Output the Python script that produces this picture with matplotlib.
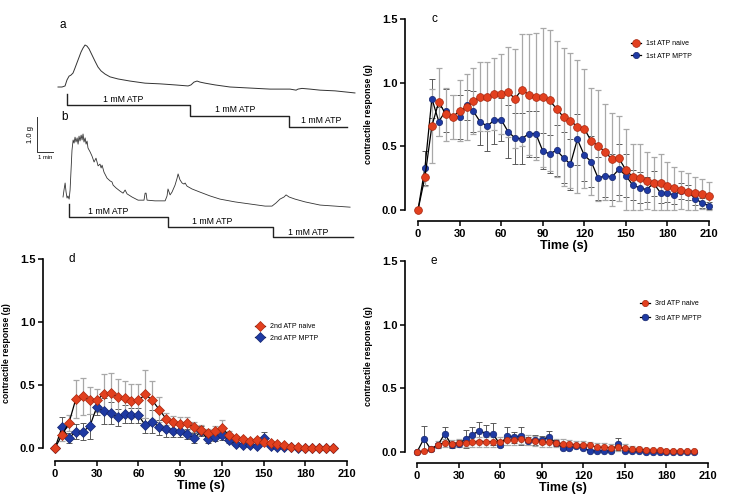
import numpy as np
import matplotlib
matplotlib.use("Agg")
import matplotlib.pyplot as plt

plt.rcParams['font.family'] = ['Liberation Sans', 'DejaVu Sans']

# ---------------- data ----------------
# panel c (1st ATP), 0..210 s every 5 s
t_c = np.arange(0, 215, 5)
naive_c = [0, 0.26, 0.66, 0.85, 0.75, 0.73, 0.78, 0.81, 0.855, 0.89, 0.89, 0.91, 0.91, 0.925,
           0.875, 0.945, 0.905, 0.89, 0.885, 0.86, 0.795, 0.73, 0.70, 0.655, 0.64, 0.54, 0.505,
           0.455, 0.40, 0.405, 0.315, 0.26, 0.255, 0.23, 0.21, 0.215, 0.19, 0.17, 0.155, 0.145,
           0.13, 0.125, 0.11]
naive_c_sem = [0, 0.07, 0.29, 0.265, 0.21, 0.175, 0.24, 0.26, 0.26, 0.27, 0.27, 0.28, 0.315, 0.355,
               0.39, 0.44, 0.475, 0.5, 0.545, 0.55, 0.535, 0.54, 0.53, 0.525, 0.465, 0.42, 0.435,
               0.375, 0.365, 0.335, 0.325, 0.26, 0.26, 0.225, 0.207, 0.225, 0.19, 0.17, 0.15, 0.145,
               0.13, 0.115, 0.11]
mptp_c = [0, 0.33, 0.875, 0.695, 0.78, 0.73, 0.73, 0.825, 0.775, 0.69, 0.66, 0.705, 0.71, 0.615,
          0.565, 0.56, 0.60, 0.60, 0.465, 0.44, 0.47, 0.41, 0.36, 0.555, 0.43, 0.38, 0.25, 0.27,
          0.26, 0.32, 0.27, 0.195, 0.175, 0.16, 0.21, 0.135, 0.13, 0.12, 0.15, 0.14, 0.09, 0.055,
          0.035]
mptp_c_sem = [0, 0.13, 0.155, 0.11, 0.17, 0.17, 0.17, 0.12, 0.16, 0.18, 0.2, 0.19, 0.17, 0.21,
              0.2, 0.2, 0.18, 0.18, 0.14, 0.15, 0.2, 0.2, 0.2, 0.2, 0.2, 0.2, 0.17, 0.17, 0.18,
              0.2, 0.17, 0.12, 0.12, 0.1, 0.1, 0.08, 0.07, 0.07, 0.06, 0.06, 0.05, 0.04, 0.03]

# panel d (2nd ATP), 0..200 s
t_d = np.arange(0, 205, 5)
naive_d = [0, 0.103, 0.198, 0.39, 0.41, 0.378, 0.378, 0.43, 0.437, 0.405, 0.397, 0.376, 0.378,
           0.426, 0.378, 0.304, 0.23, 0.206, 0.193, 0.196, 0.164, 0.143, 0.119, 0.132, 0.156,
           0.103, 0.077, 0.071, 0.053, 0.061, 0.048, 0.04, 0.032, 0.021, 0.011, 0.005, 0, 0, 0, 0, 0]
naive_d_sem = [0, 0.05, 0.06, 0.15, 0.145, 0.105, 0.09, 0.155, 0.16, 0.14, 0.133, 0.134, 0.13,
               0.19, 0.15, 0.1, 0.05, 0.045, 0.055, 0.05, 0.04, 0.04, 0.03, 0.04, 0.065, 0.03,
               0.02, 0.02, 0.015, 0.02, 0.015, 0.01, 0.01, 0.008, 0.005, 0.003, 0, 0, 0, 0, 0]
mptp_d = [0, 0.164, 0.079, 0.13, 0.13, 0.172, 0.323, 0.294, 0.278, 0.243, 0.27, 0.259, 0.259,
          0.18, 0.209, 0.164, 0.151, 0.138, 0.138, 0.111, 0.077, 0.132, 0.069, 0.085, 0.103,
          0.061, 0.032, 0.026, 0.021, 0.019, 0.079, 0.016, 0.011, 0.008, 0.005, 0.003, 0, 0, 0, 0, 0]
mptp_d_sem = [0, 0.085, 0.04, 0.06, 0.07, 0.1, 0.06, 0.1, 0.09, 0.07, 0.07, 0.06, 0.06, 0.06,
              0.09, 0.06, 0.06, 0.05, 0.05, 0.04, 0.04, 0.04, 0.03, 0.03, 0.04, 0.02, 0.015,
              0.01, 0.01, 0.01, 0.05, 0.01, 0.005, 0.005, 0, 0, 0, 0, 0, 0, 0]

# panel e (3rd ATP), 0..200 s
t_e = np.arange(0, 205, 5)
naive_e = [0, 0.005, 0.02, 0.058, 0.073, 0.066, 0.071, 0.073, 0.079, 0.081, 0.081, 0.081, 0.079,
           0.092, 0.097, 0.1, 0.092, 0.089, 0.081, 0.076, 0.071, 0.066, 0.06, 0.058, 0.055, 0.052,
           0.037, 0.037, 0.034, 0.037, 0.029, 0.024, 0.021, 0.018, 0.013, 0.013, 0.01, 0.008,
           0.005, 0.005, 0.005]
naive_e_sem = [0, 0.005, 0.01, 0.025, 0.03, 0.03, 0.035, 0.035, 0.04, 0.04, 0.04, 0.04, 0.04,
               0.04, 0.04, 0.04, 0.04, 0.04, 0.04, 0.035, 0.035, 0.035, 0.035, 0.03, 0.03, 0.03,
               0.03, 0.03, 0.03, 0.03, 0.03, 0.025, 0.02, 0.015, 0.012, 0.01, 0.008, 0.007, 0.005,
               0.005, 0.005]
mptp_e = [0, 0.105, 0.02, 0.052, 0.144, 0.055, 0.066, 0.1, 0.136, 0.168, 0.144, 0.139, 0.058,
          0.126, 0.115, 0.126, 0.084, 0.097, 0.092, 0.121, 0.071, 0.034, 0.034, 0.045, 0.031,
          0.008, 0.008, 0.008, 0.008, 0.063, 0.008, 0.005, 0.004, 0.003, 0.003, 0.003, 0.003,
          0.003, 0.003, 0.003, 0.003]
mptp_e_sem = [0, 0.1, 0.01, 0.02, 0.056, 0.02, 0.03, 0.07, 0.064, 0.07, 0.07, 0.086, 0.02,
              0.074, 0.045, 0.074, 0.03, 0.04, 0.03, 0.045, 0.02, 0.01, 0.01, 0.01, 0.01, 0.005,
              0.005, 0.005, 0.005, 0.05, 0.005, 0, 0, 0, 0, 0, 0, 0, 0, 0, 0]

# raw traces (time in min, tension in g above baseline)
trace_a_t = [0, 0.25, 0.44, 0.56, 0.69, 0.81, 0.94, 1.06, 1.25, 1.44, 1.56, 1.69, 1.81, 1.94,
             2.13, 2.31, 2.5, 2.69, 2.94, 3.25, 3.75, 4.5, 5.44, 6.38, 7.31, 8.13, 8.31, 8.5,
             8.69, 8.88, 9.19, 9.81, 10.75, 12.0, 13.25, 14.5, 14.88, 15.0, 15.25, 15.75,
             16.38, 17.31, 17.94, 18.56]
trace_a_g = [0, 0, 0.03, 0.2, 0.31, 0.34, 0.4, 0.54, 0.77, 1.0, 1.11, 1.2, 1.17, 1.09, 0.91,
             0.74, 0.57, 0.46, 0.37, 0.29, 0.23, 0.17, 0.11, 0.09, 0.06, 0.03, 0.06, 0.14, 0.17,
             0.14, 0.11, 0.06, 0, -0.03, -0.06, -0.06, -0.09, -0.06, -0.04, -0.06, -0.09,
             -0.11, -0.14, -0.17]
trace_b_t = [0, 0.06, 0.13, 0.19, 0.25, 0.31, 0.38, 0.44, 0.5, 0.56, 0.63, 0.69, 0.75, 0.81,
             0.88, 0.94, 1.0, 1.06, 1.13, 1.19, 1.25, 1.31, 1.38, 1.44, 1.5, 1.56, 1.69, 1.81,
             1.94, 2.06, 2.19, 2.31, 2.38, 2.44, 2.56, 2.75, 2.94, 3.06, 3.13, 3.31, 3.56, 3.75,
             3.88, 4.0, 4.31, 4.69, 5.06, 5.13, 5.19, 5.25, 5.75, 6.38, 6.5, 6.56, 6.69, 6.81,
             7.0, 7.13, 7.19, 7.31, 7.44, 7.56, 7.63, 7.75, 8.06, 8.56, 9.19, 9.81, 10.75,
             11.69, 12.63, 13.06, 13.31, 13.56, 13.81, 13.94, 14.13, 14.5, 15.13, 16.06, 17.0,
             17.94]
trace_b_g = [0, 0.2, 0.4, 0.14, -0.03, 0.03, -0.06, 0.2, 0.77, 1.34, 1.63, 1.54, 1.71, 1.57,
             1.69, 1.51, 1.74, 1.6, 1.77, 1.63, 1.8, 1.57, 1.69, 1.51, 1.6, 1.4, 1.29, 1.17, 1.0,
             1.11, 0.89, 0.94, 0.83, 0.91, 0.71, 0.54, 0.46, 0.43, 0.34, 0.26, 0.17, 0.11, 0.2,
             0.09, 0, -0.09, -0.09, 0.11, 0.11, -0.09, -0.11, -0.11, 0.03, 0.23, 0.06, 0.14,
             0.34, 0.54, 0.66, 0.49, 0.4, 0.37, 0.4, 0.31, 0.23, 0.14, 0.03, -0.06, -0.14, -0.2,
             -0.26, -0.26, -0.17, -0.06, 0, 0.06, 0, -0.06, -0.14, -0.23, -0.26, -0.29]

RED = '#e2401f'
RED_EDGE = '#a8260e'
BLUE = '#1f3aa3'
BLUE_EDGE = '#14256e'

fig = plt.figure(figsize=(7.3, 5.03), dpi=100)


def panel(rect, t, naive, naive_sem, mptp, mptp_sem, marker, labels, letter,
          leg_xy, left_off, bottom_off, ms_r, ms_b, lspace):
    ax = fig.add_axes(rect)
    naive = np.array(naive)
    mptp = np.array(mptp)
    ns = np.array(naive_sem)
    bs = np.array(mptp_sem)
    ax.errorbar(t, mptp, yerr=[np.minimum(bs, mptp), bs], fmt='none', ecolor='#5a5a5a',
                elinewidth=0.7, capsize=2.3, capthick=0.7, clip_on=False, zorder=1)
    ax.errorbar(t, naive, yerr=[np.minimum(ns, naive), ns], fmt='none', ecolor='#a8a8a8',
                elinewidth=0.9, capsize=2.3, capthick=0.9, clip_on=False, zorder=1)
    ax.plot(t, mptp, color='black', lw=0.9, marker=marker, ms=ms_b, mfc=BLUE,
            mec=BLUE_EDGE, mew=0.5, clip_on=False, zorder=3, label=labels[1])
    ax.plot(t, naive, color='black', lw=0.9, marker=marker, ms=ms_r, mfc=RED,
            mec=RED_EDGE, mew=0.5, clip_on=False, zorder=4, label=labels[0])
    ax.set_xlim(0, 210)
    ax.set_ylim(0, 1.5)
    ax.set_xticks(np.arange(0, 211, 30))
    ax.set_yticks([0, 0.5, 1.0, 1.5])
    ax.set_yticklabels(['0.0', '0.5', '1.0', '1.5'])
    for s in ['top', 'right']:
        ax.spines[s].set_visible(False)
    ax.spines['left'].set_position(('outward', left_off))
    ax.spines['bottom'].set_position(('outward', bottom_off))
    for s in ['left', 'bottom']:
        ax.spines[s].set_linewidth(1.2)
    ax.tick_params(length=3.5, width=1.1, labelsize=8, pad=2)
    for lab in ax.get_xticklabels() + ax.get_yticklabels():
        lab.set_fontweight('bold')
    ax.set_xlabel('Time (s)', fontsize=9, fontweight='bold', labelpad=1)
    ax.set_ylabel('contractile response (g)', fontsize=6.3, fontweight='bold', labelpad=6)
    ax.text(0.045, 1.0, letter, transform=ax.transAxes, fontsize=8.5, va='center')
    h, l = ax.get_legend_handles_labels()
    ax.legend(h[::-1], l[::-1], loc='upper left', bbox_to_anchor=leg_xy,
              bbox_transform=fig.transFigure, frameon=False, fontsize=5,
              handlelength=1.5, handletextpad=0.6, labelspacing=lspace, borderpad=0,
              borderaxespad=0)
    return ax


panel([418 / 730, 1 - 210 / 503, 291 / 730, 191 / 503], t_c, naive_c, naive_c_sem,
      mptp_c, mptp_c_sem, 'o', ['1st ATP naive', '1st ATP MPTP'], 'c',
      (631 / 730, 1 - 40 / 503), 9.4, 7.9, 5.6, 4.5, 0.8)
panel([55 / 730, 1 - 448 / 503, 292 / 730, 189 / 503], t_d, naive_d, naive_d_sem,
      mptp_d, mptp_d_sem, 'D', ['2nd ATP naive', '2nd ATP MPTP'], 'd',
      (255 / 730, 1 - 323 / 503), 8.6, 9.4, 4.8, 4.8, 0.7)
panel([417 / 730, 1 - 452 / 503, 291 / 730, 191 / 503], t_e, naive_e, naive_e_sem,
      mptp_e, mptp_e_sem, 'o', ['3rd ATP naive', '3rd ATP MPTP'], 'e',
      (640 / 730, 1 - 300 / 503), 8.6, 7.9, 4.5, 4.7, 1.1)

# ---------------- raw traces (a, b) ----------------
axt = fig.add_axes([0, 1 - 250 / 503, 370 / 730, 250 / 503])
axt.set_xlim(0, 370 / 16)       # minutes (16 px per min)
axt.set_ylim(0, 250 / 35)       # grams (35 px per g)
axt.axis('off')

a_start, a_base = 3.625, 4.657
b_start, b_base = 3.94, 1.514
axt.plot(np.array(trace_a_t) + a_start, np.array(trace_a_g) + a_base, color='#333333', lw=0.7)
axt.plot(np.array(trace_b_t) + b_start, np.array(trace_b_g) + b_base, color='#333333', lw=0.6)

# ATP application markers
axt.plot([4.19, 4.19, 11.875, 11.875, 18.06, 18.06, 21.69],
         [4.457, 4.143, 4.143, 3.829, 3.829, 3.514, 3.514], color='#222222', lw=1.0)
axt.plot([4.31, 4.31, 10.5, 10.5, 17.06, 17.06, 22.06],
         [1.314, 0.943, 0.943, 0.657, 0.657, 0.371, 0.371], color='#222222', lw=1.0)
for x, y in [(7.7, 4.29), (14.7, 4.0), (20.1, 3.69)]:
    axt.text(x, y, '1 mM ATP', fontsize=6.3, ha='center', va='center')
for x, y in [(6.75, 1.1), (13.25, 0.8), (19.25, 0.51)]:
    axt.text(x, y, '1 mM ATP', fontsize=6.3, ha='center', va='center')

# scale bar 1 min x 1.0 g
axt.plot([2.31, 2.31, 3.31], [3.8, 2.8, 2.8], color='#333333', lw=0.7)
axt.text(1.9, 3.3, '1.0 g', rotation=90, fontsize=5.5, ha='center', va='center')
axt.text(2.8, 2.63, '1 min', fontsize=4.2, ha='center', va='center')
axt.text(3.75, 6.43, 'a', fontsize=8.5, ha='left', va='center')
axt.text(3.85, 3.8, 'b', fontsize=8.5, ha='left', va='center')

fig.savefig('out.png', dpi=100)
